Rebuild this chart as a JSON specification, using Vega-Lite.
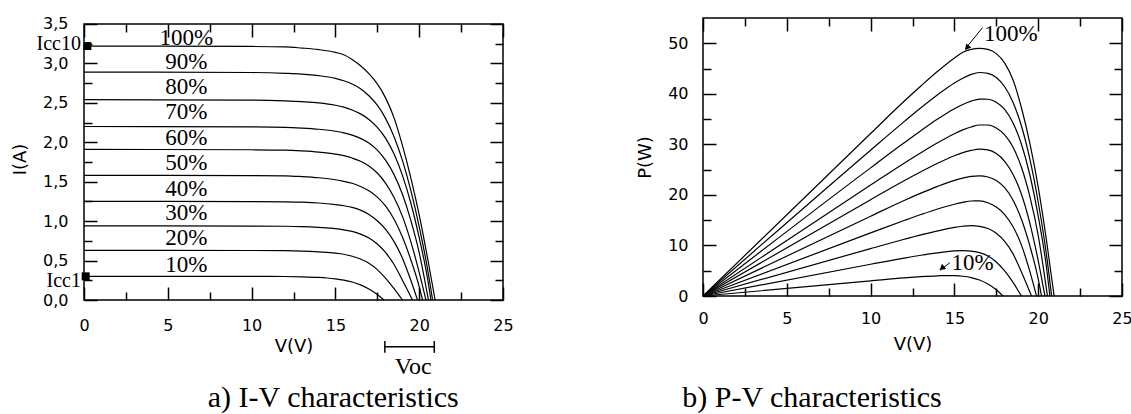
{
"$schema": "https://vega.github.io/schema/vega-lite/v6.json",
"background": "white",
"padding": {"left": 11, "top": 15, "right": 5, "bottom": 0},
"config": {
 "view": {"stroke": "black", "strokeWidth": 1.5},
 "axis": {"grid": false, "domain": false, "tickColor": "black", "tickWidth": 1.5, "labelColor": "black", "labelFont": "DejaVu Sans", "labelFontSize": 16, "titleFont": "DejaVu Sans", "titleFontSize": 18, "titleFontWeight": "normal", "titleColor": "black", "labelFlush": false, "labelOverlap": false},
 "concat": {"spacing": 121},
 "text": {"color": "black"}
},
"datasets": {
 "curves": [
  {"s":"100%","V":0,"I":3.22,"P":0},{"s":"100%","V":10,"I":3.215,"P":32.15},{"s":"100%","V":12,"I":3.21,"P":38.52},{"s":"100%","V":13,"I":3.195,"P":41.54},{"s":"100%","V":14,"I":3.175,"P":44.45},{"s":"100%","V":15,"I":3.14,"P":47.1},{"s":"100%","V":15.5,"I":3.11,"P":48.21},{"s":"100%","V":16,"I":3.05,"P":48.8},{"s":"100%","V":16.5,"I":2.97,"P":49.0},{"s":"100%","V":17,"I":2.87,"P":48.79},{"s":"100%","V":17.5,"I":2.74,"P":47.95},{"s":"100%","V":18,"I":2.56,"P":46.08},{"s":"100%","V":18.5,"I":2.31,"P":42.74},{"s":"100%","V":19,"I":1.96,"P":37.24},{"s":"100%","V":19.5,"I":1.55,"P":30.23},{"s":"100%","V":20,"I":1.08,"P":21.6},{"s":"100%","V":20.5,"I":0.53,"P":10.87},{"s":"100%","V":20.95,"I":0,"P":0},
  {"s":"90%","V":0,"I":2.89,"P":0},{"s":"90%","V":10,"I":2.885,"P":28.85},{"s":"90%","V":12,"I":2.875,"P":34.5},{"s":"90%","V":13,"I":2.865,"P":37.25},{"s":"90%","V":14,"I":2.845,"P":39.83},{"s":"90%","V":15,"I":2.81,"P":42.15},{"s":"90%","V":15.5,"I":2.78,"P":43.09},{"s":"90%","V":16,"I":2.74,"P":43.84},{"s":"90%","V":16.5,"I":2.68,"P":44.22},{"s":"90%","V":17,"I":2.59,"P":44.03},{"s":"90%","V":17.5,"I":2.47,"P":43.23},{"s":"90%","V":18,"I":2.3,"P":41.4},{"s":"90%","V":18.5,"I":2.07,"P":38.3},{"s":"90%","V":19,"I":1.77,"P":33.63},{"s":"90%","V":19.5,"I":1.39,"P":27.11},{"s":"90%","V":20,"I":0.93,"P":18.6},{"s":"90%","V":20.5,"I":0.39,"P":8.0},{"s":"90%","V":20.8,"I":0,"P":0},
  {"s":"80%","V":0,"I":2.54,"P":0},{"s":"80%","V":10,"I":2.535,"P":25.35},{"s":"80%","V":12,"I":2.525,"P":30.3},{"s":"80%","V":13,"I":2.515,"P":32.7},{"s":"80%","V":14,"I":2.5,"P":35.0},{"s":"80%","V":15,"I":2.47,"P":37.05},{"s":"80%","V":15.5,"I":2.445,"P":37.9},{"s":"80%","V":16,"I":2.41,"P":38.56},{"s":"80%","V":16.5,"I":2.36,"P":38.94},{"s":"80%","V":17,"I":2.29,"P":38.93},{"s":"80%","V":17.5,"I":2.19,"P":38.33},{"s":"80%","V":18,"I":2.05,"P":36.9},{"s":"80%","V":18.5,"I":1.85,"P":34.23},{"s":"80%","V":19,"I":1.58,"P":30.02},{"s":"80%","V":19.5,"I":1.23,"P":23.99},{"s":"80%","V":20,"I":0.79,"P":15.8},{"s":"80%","V":20.5,"I":0.27,"P":5.54},{"s":"80%","V":20.7,"I":0,"P":0},
  {"s":"70%","V":0,"I":2.2,"P":0},{"s":"70%","V":10,"I":2.195,"P":21.95},{"s":"70%","V":12,"I":2.19,"P":26.28},{"s":"70%","V":13,"I":2.18,"P":28.34},{"s":"70%","V":14,"I":2.165,"P":30.31},{"s":"70%","V":15,"I":2.14,"P":32.1},{"s":"70%","V":15.5,"I":2.12,"P":32.86},{"s":"70%","V":16,"I":2.09,"P":33.44},{"s":"70%","V":16.5,"I":2.05,"P":33.83},{"s":"70%","V":17,"I":1.99,"P":33.83},{"s":"70%","V":17.5,"I":1.9,"P":33.25},{"s":"70%","V":18,"I":1.77,"P":31.86},{"s":"70%","V":18.5,"I":1.59,"P":29.42},{"s":"70%","V":19,"I":1.34,"P":25.46},{"s":"70%","V":19.5,"I":1.01,"P":19.7},{"s":"70%","V":20,"I":0.6,"P":12.0},{"s":"70%","V":20.55,"I":0,"P":0},
  {"s":"60%","V":0,"I":1.91,"P":0},{"s":"60%","V":10,"I":1.905,"P":19.05},{"s":"60%","V":12,"I":1.9,"P":22.8},{"s":"60%","V":13,"I":1.89,"P":24.57},{"s":"60%","V":14,"I":1.875,"P":26.25},{"s":"60%","V":15,"I":1.85,"P":27.75},{"s":"60%","V":15.5,"I":1.83,"P":28.37},{"s":"60%","V":16,"I":1.8,"P":28.8},{"s":"60%","V":16.5,"I":1.76,"P":29.04},{"s":"60%","V":17,"I":1.7,"P":28.9},{"s":"60%","V":17.5,"I":1.61,"P":28.18},{"s":"60%","V":18,"I":1.48,"P":26.64},{"s":"60%","V":18.5,"I":1.3,"P":24.05},{"s":"60%","V":19,"I":1.06,"P":20.14},{"s":"60%","V":19.5,"I":0.74,"P":14.43},{"s":"60%","V":20,"I":0.35,"P":7.0},{"s":"60%","V":20.4,"I":0,"P":0},
  {"s":"50%","V":0,"I":1.58,"P":0},{"s":"50%","V":10,"I":1.578,"P":15.78},{"s":"50%","V":12,"I":1.575,"P":18.9},{"s":"50%","V":13,"I":1.565,"P":20.35},{"s":"50%","V":14,"I":1.55,"P":21.7},{"s":"50%","V":15,"I":1.525,"P":22.88},{"s":"50%","V":15.5,"I":1.505,"P":23.33},{"s":"50%","V":16,"I":1.48,"P":23.68},{"s":"50%","V":16.5,"I":1.44,"P":23.76},{"s":"50%","V":17,"I":1.385,"P":23.55},{"s":"50%","V":17.5,"I":1.305,"P":22.84},{"s":"50%","V":18,"I":1.19,"P":21.42},{"s":"50%","V":18.5,"I":1.025,"P":18.96},{"s":"50%","V":19,"I":0.8,"P":15.2},{"s":"50%","V":19.5,"I":0.51,"P":9.95},{"s":"50%","V":20,"I":0.17,"P":3.4},{"s":"50%","V":20.2,"I":0,"P":0},
  {"s":"40%","V":0,"I":1.25,"P":0},{"s":"40%","V":10,"I":1.248,"P":12.48},{"s":"40%","V":12,"I":1.245,"P":14.94},{"s":"40%","V":13,"I":1.24,"P":16.12},{"s":"40%","V":14,"I":1.23,"P":17.22},{"s":"40%","V":15,"I":1.21,"P":18.15},{"s":"40%","V":15.5,"I":1.195,"P":18.52},{"s":"40%","V":16,"I":1.175,"P":18.8},{"s":"40%","V":16.5,"I":1.14,"P":18.81},{"s":"40%","V":17,"I":1.085,"P":18.45},{"s":"40%","V":17.5,"I":1.005,"P":17.59},{"s":"40%","V":18,"I":0.895,"P":16.11},{"s":"40%","V":18.5,"I":0.74,"P":13.69},{"s":"40%","V":19,"I":0.53,"P":10.07},{"s":"40%","V":19.5,"I":0.25,"P":4.88},{"s":"40%","V":19.9,"I":0,"P":0},
  {"s":"30%","V":0,"I":0.94,"P":0},{"s":"30%","V":10,"I":0.938,"P":9.38},{"s":"30%","V":12,"I":0.935,"P":11.22},{"s":"30%","V":13,"I":0.93,"P":12.09},{"s":"30%","V":14,"I":0.92,"P":12.88},{"s":"30%","V":15,"I":0.905,"P":13.58},{"s":"30%","V":15.5,"I":0.89,"P":13.8},{"s":"30%","V":16,"I":0.87,"P":13.92},{"s":"30%","V":16.5,"I":0.835,"P":13.78},{"s":"30%","V":17,"I":0.785,"P":13.35},{"s":"30%","V":17.5,"I":0.71,"P":12.43},{"s":"30%","V":18,"I":0.6,"P":10.8},{"s":"30%","V":18.5,"I":0.45,"P":8.33},{"s":"30%","V":19,"I":0.25,"P":4.75},{"s":"30%","V":19.6,"I":0,"P":0},
  {"s":"20%","V":0,"I":0.63,"P":0},{"s":"20%","V":10,"I":0.628,"P":6.28},{"s":"20%","V":12,"I":0.625,"P":7.5},{"s":"20%","V":13,"I":0.62,"P":8.06},{"s":"20%","V":14,"I":0.61,"P":8.54},{"s":"20%","V":15,"I":0.595,"P":8.93},{"s":"20%","V":15.5,"I":0.58,"P":8.99},{"s":"20%","V":16,"I":0.555,"P":8.88},{"s":"20%","V":16.5,"I":0.52,"P":8.58},{"s":"20%","V":17,"I":0.465,"P":7.91},{"s":"20%","V":17.5,"I":0.385,"P":6.74},{"s":"20%","V":18,"I":0.275,"P":4.95},{"s":"20%","V":18.5,"I":0.145,"P":2.68},{"s":"20%","V":19,"I":0,"P":0},
  {"s":"10%","V":0,"I":0.3,"P":0},{"s":"10%","V":10,"I":0.299,"P":2.99},{"s":"10%","V":12,"I":0.298,"P":3.58},{"s":"10%","V":13,"I":0.294,"P":3.82},{"s":"10%","V":14,"I":0.286,"P":4.0},{"s":"10%","V":14.5,"I":0.279,"P":4.05},{"s":"10%","V":15,"I":0.268,"P":4.02},{"s":"10%","V":15.5,"I":0.252,"P":3.91},{"s":"10%","V":16,"I":0.228,"P":3.65},{"s":"10%","V":16.5,"I":0.192,"P":3.17},{"s":"10%","V":17,"I":0.14,"P":2.38},{"s":"10%","V":17.5,"I":0.07,"P":1.23},{"s":"10%","V":17.9,"I":0,"P":0}
 ]
},
"hconcat": [
 {
  "width": 419, "height": 282,
  "view": {"stroke": null},
  "resolve": {"axis": {"x": "independent", "y": "independent"}},
  "layer": [
   {
    "data": {"values": [{}]},
    "mark": {"type": "rect", "filled": false, "fill": null, "stroke": "black", "strokeWidth": 1.5},
    "encoding": {
     "x": {"datum": 0, "type": "quantitative", "axis": null},
     "x2": {"datum": 25},
     "y": {"datum": 0, "type": "quantitative", "axis": null},
     "y2": {"datum": 3.5}
    }
   },
   {
    "data": {"name": "curves"},
    "mark": {"type": "line", "color": "black", "strokeWidth": 1.2, "interpolate": "monotone"},
    "encoding": {
     "x": {"field": "V", "type": "quantitative", "scale": {"domain": [0, 25], "nice": false, "zero": false},
       "axis": {"orient": "bottom", "values": [0,5,10,15,20,25], "tickSize": -13, "labelPadding": 30, "title": "V(V)", "titlePadding": 4}},
     "y": {"field": "I", "type": "quantitative", "scale": {"domain": [0, 3.576], "nice": false, "zero": false},
       "axis": {"orient": "left", "values": [0,0.5,1,1.5,2,2.5,3,3.5], "tickSize": -13, "labelPadding": 29, "labelExpr": "replace(format(datum.value, '.1f'), '.', ',')", "title": "I(A)", "titlePadding": 13}},
     "detail": {"field": "s"}
    }
   },
   {
    "data": {"name": "curves"},
    "mark": {"type": "line", "strokeOpacity": 0},
    "encoding": {
     "x": {"field": "V", "type": "quantitative", "axis": {"orient": "bottom", "values": [2.5,7.5,12.5,17.5,22.5], "tickSize": -8, "labels": false, "title": null}},
     "y": {"field": "I", "type": "quantitative", "axis": {"orient": "left", "values": [0.25,0.75,1.25,1.75,2.25,2.75,3.25], "tickSize": -8, "labels": false, "title": null}},
     "detail": {"field": "s"}
    }
   },
   {
    "data": {"name": "curves"},
    "mark": {"type": "line", "strokeOpacity": 0},
    "encoding": {
     "x": {"field": "V", "type": "quantitative", "axis": {"orient": "top", "offset": -6, "values": [0,5,10,15,20,25], "tickSize": -13, "labels": false, "title": null}},
     "y": {"field": "I", "type": "quantitative", "axis": {"orient": "right", "values": [0,0.5,1,1.5,2,2.5,3,3.5], "tickSize": -13, "labels": false, "title": null}},
     "detail": {"field": "s"}
    }
   },
   {
    "data": {"name": "curves"},
    "mark": {"type": "line", "strokeOpacity": 0},
    "encoding": {
     "x": {"field": "V", "type": "quantitative", "axis": {"orient": "top", "offset": -6, "values": [2.5,7.5,12.5,17.5,22.5], "tickSize": -8, "labels": false, "title": null}},
     "y": {"field": "I", "type": "quantitative", "axis": {"orient": "right", "values": [0.25,0.75,1.25,1.75,2.25,2.75,3.25], "tickSize": -8, "labels": false, "title": null}},
     "detail": {"field": "s"}
    }
   },
   {
    "data": {"values": [{"t":"100%","I":3.32},{"t":"90%","I":3.02},{"t":"80%","I":2.7},{"t":"70%","I":2.385},{"t":"60%","I":2.06},{"t":"50%","I":1.74},{"t":"40%","I":1.41},{"t":"30%","I":1.1},{"t":"20%","I":0.78},{"t":"10%","I":0.44}]},
    "mark": {"type": "text", "font": "Liberation Serif", "fontSize": 23, "align": "center", "baseline": "middle"},
    "encoding": {
     "x": {"datum": 6.1, "type": "quantitative", "axis": null},
     "y": {"field": "I", "type": "quantitative", "axis": null},
     "text": {"field": "t"}
    }
   },
   {
    "data": {"values": [{"V":0.2,"I":3.22},{"V":0.1,"I":0.3}]},
    "mark": {"type": "square", "filled": true, "color": "black", "opacity": 1, "size": 64},
    "encoding": {
     "x": {"field": "V", "type": "quantitative", "axis": null},
     "y": {"field": "I", "type": "quantitative", "axis": null}
    }
   },
   {
    "data": {"values": [{"t":"Icc10","I":3.24},{"t":"Icc1","I":0.24}]},
    "mark": {"type": "text", "font": "Liberation Serif", "fontSize": 20, "align": "right", "baseline": "middle", "dx": -3},
    "encoding": {
     "x": {"datum": 0, "type": "quantitative", "axis": null},
     "y": {"field": "I", "type": "quantitative", "axis": null},
     "text": {"field": "t"}
    }
   },
   {
    "data": {"values": [{}]},
    "mark": {"type": "rule", "color": "black", "strokeWidth": 1.5},
    "encoding": {
     "x": {"datum": 17.95, "type": "quantitative", "axis": null},
     "x2": {"datum": 20.9},
     "y": {"datum": -0.592, "type": "quantitative", "axis": null}
    }
   },
   {
    "data": {"values": [{"V":17.95},{"V":20.9}]},
    "mark": {"type": "rule", "color": "black", "strokeWidth": 1.5},
    "encoding": {
     "x": {"field": "V", "type": "quantitative", "axis": null},
     "y": {"datum": -0.52, "type": "quantitative", "axis": null},
     "y2": {"datum": -0.67}
    }
   },
   {
    "data": {"values": [{}]},
    "mark": {"type": "text", "text": "Voc", "font": "Liberation Serif", "fontSize": 24, "align": "center", "baseline": "middle"},
    "encoding": {
     "x": {"datum": 19.64, "type": "quantitative", "axis": null},
     "y": {"datum": -0.855, "type": "quantitative", "axis": null}
    }
   },
   {
    "data": {"values": [{}]},
    "mark": {"type": "text", "text": "a) I-V characteristics", "font": "Liberation Serif", "fontSize": 30, "align": "center", "baseline": "alphabetic"},
    "encoding": {
     "x": {"datum": 14.87, "type": "quantitative", "axis": null},
     "y": {"datum": -1.357, "type": "quantitative", "axis": null}
    }
   }
  ]
 },
 {
  "width": 419, "height": 278,
  "resolve": {"axis": {"x": "independent", "y": "independent"}},
  "layer": [
   {
    "data": {"name": "curves"},
    "mark": {"type": "line", "color": "black", "strokeWidth": 1.2, "interpolate": "monotone"},
    "encoding": {
     "x": {"field": "V", "type": "quantitative", "scale": {"domain": [0, 25], "nice": false, "zero": false},
       "axis": {"orient": "bottom", "values": [0,5,10,15,20,25], "tickSize": -13, "labelPadding": 27, "title": "V(V)", "titlePadding": 9}},
     "y": {"field": "P", "type": "quantitative", "scale": {"domain": [0, 55], "nice": false, "zero": false},
       "axis": {"orient": "left", "values": [0,10,20,30,40,50], "tickSize": -13, "labelPadding": 28, "title": "P(W)", "titlePadding": 13}},
     "detail": {"field": "s"}
    }
   },
   {
    "data": {"name": "curves"},
    "mark": {"type": "line", "strokeOpacity": 0},
    "encoding": {
     "x": {"field": "V", "type": "quantitative", "axis": {"orient": "bottom", "values": [2.5,7.5,12.5,17.5,22.5], "tickSize": -8, "labels": false, "title": null}},
     "y": {"field": "P", "type": "quantitative", "axis": {"orient": "left", "values": [5,15,25,35,45], "tickSize": -8, "labels": false, "title": null}},
     "detail": {"field": "s"}
    }
   },
   {
    "data": {"name": "curves"},
    "mark": {"type": "line", "strokeOpacity": 0},
    "encoding": {
     "x": {"field": "V", "type": "quantitative", "axis": {"orient": "top", "values": [0,5,10,15,20,25], "tickSize": -13, "labels": false, "title": null}},
     "y": {"field": "P", "type": "quantitative", "axis": {"orient": "right", "values": [0,10,20,30,40,50], "tickSize": -13, "labels": false, "title": null}},
     "detail": {"field": "s"}
    }
   },
   {
    "data": {"name": "curves"},
    "mark": {"type": "line", "strokeOpacity": 0},
    "encoding": {
     "x": {"field": "V", "type": "quantitative", "axis": {"orient": "top", "values": [2.5,7.5,12.5,17.5,22.5], "tickSize": -8, "labels": false, "title": null}},
     "y": {"field": "P", "type": "quantitative", "axis": {"orient": "right", "values": [5,15,25,35,45], "tickSize": -8, "labels": false, "title": null}},
     "detail": {"field": "s"}
    }
   },
   {
    "data": {"values": [{"t":"100%","V":18.36,"P":51.8},{"t":"10%","V":16.08,"P":6.58}]},
    "mark": {"type": "text", "font": "Liberation Serif", "fontSize": 23, "align": "center", "baseline": "middle"},
    "encoding": {
     "x": {"field": "V", "type": "quantitative", "axis": null},
     "y": {"field": "P", "type": "quantitative", "axis": null},
     "text": {"field": "t"}
    }
   },
   {
    "data": {"values": [{"V":16.68,"P":53.1,"V2":15.65,"P2":48.9},{"V":14.73,"P":6.58,"V2":14.15,"P2":5.1}]},
    "mark": {"type": "rule", "color": "black", "strokeWidth": 1},
    "encoding": {
     "x": {"field": "V", "type": "quantitative", "axis": null},
     "y": {"field": "P", "type": "quantitative", "axis": null},
     "x2": {"field": "V2"},
     "y2": {"field": "P2"}
    }
   },
   {
    "data": {"values": [{}]},
    "mark": {"type": "point", "shape": "triangle-up", "filled": true, "color": "black", "opacity": 1, "size": 45, "angle": 218},
    "encoding": {
     "x": {"datum": 15.75, "type": "quantitative", "axis": null},
     "y": {"datum": 49.1, "type": "quantitative", "axis": null}
    }
   },
   {
    "data": {"values": [{}]},
    "mark": {"type": "point", "shape": "triangle-up", "filled": true, "color": "black", "opacity": 1, "size": 45, "angle": 231},
    "encoding": {
     "x": {"datum": 14.25, "type": "quantitative", "axis": null},
     "y": {"datum": 5.5, "type": "quantitative", "axis": null}
    }
   },
   {
    "data": {"values": [{}]},
    "mark": {"type": "text", "text": "b) P-V characteristics", "font": "Liberation Serif", "fontSize": 30, "align": "center", "baseline": "alphabetic"},
    "encoding": {
     "x": {"datum": 6.5, "type": "quantitative", "axis": null},
     "y": {"datum": -21.88, "type": "quantitative", "axis": null}
    }
   }
  ]
 }
]
}
